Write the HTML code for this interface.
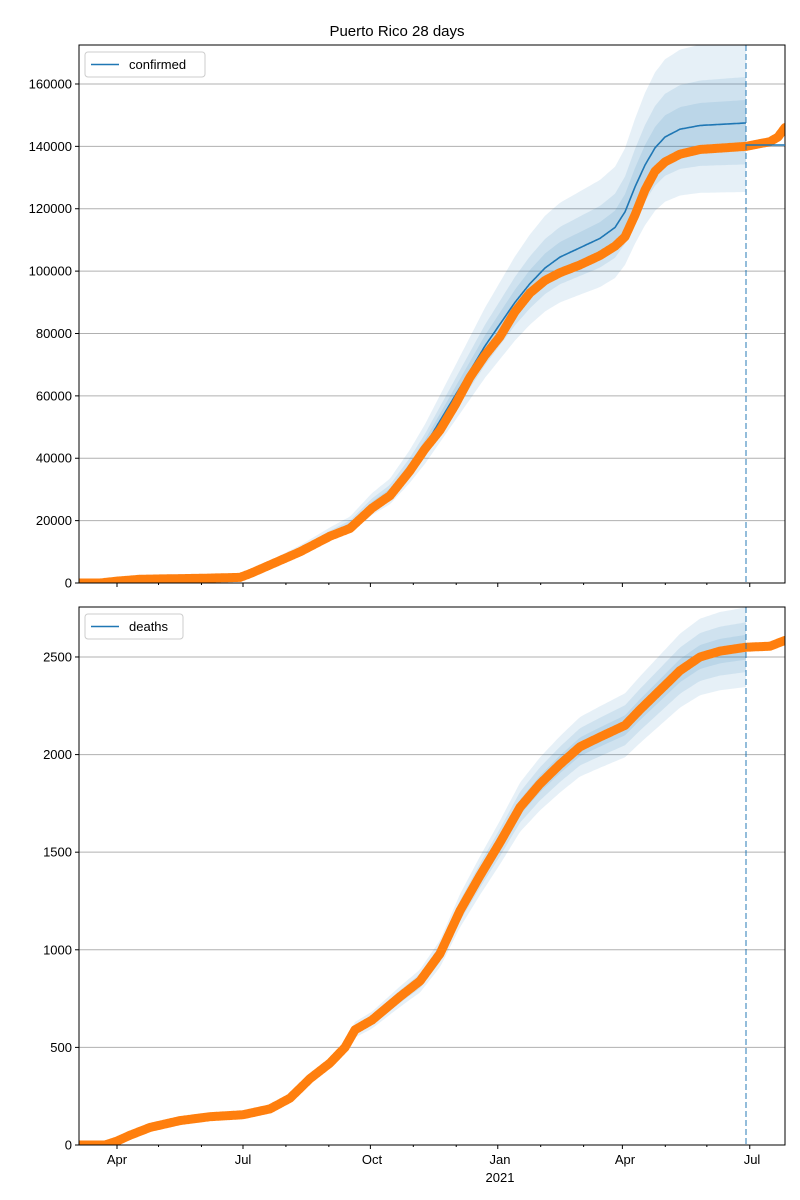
<!DOCTYPE html>
<html><head><meta charset="utf-8"><style>
body{margin:0;background:#fff;}
svg{display:block;font-family:"Liberation Sans","DejaVu Sans",sans-serif;}
</style></head><body>
<svg id="s" width="800" height="1200" xmlns="http://www.w3.org/2000/svg">
<text x="397" y="36" font-size="15" text-anchor="middle">Puerto Rico 28 days</text>
</svg>
<script>
const S=document.getElementById('s');const NS='http://www.w3.org/2000/svg';
function el(t,a,txt){const e=document.createElementNS(NS,t);for(const k in a)e.setAttribute(k,a[k]);if(txt!==undefined)e.textContent=txt;S.appendChild(e);return e;}
function interp(pts,x){if(x<=pts[0][0])return pts[0][1];for(let i=1;i<pts.length;i++){if(x<=pts[i][0]){const[a,b]=pts[i-1],[c,d]=pts[i];return b+(d-b)*(x-a)/(c-a);}}return pts[pts.length-1][1];}
function path(xs,f){return xs.map((x,i)=>(i?'L':'M')+x.toFixed(1)+','+f(x).toFixed(1)).join('');}
const L=79,R=785;
function panel(top,bot,vmax,ticks,orange,blue,bands,sx,clipId,labels){
  const ys=v=>bot-v*(bot-top)/vmax;
  const clip=el('clipPath',{id:clipId});const cp=document.createElementNS(NS,'rect');
  cp.setAttribute('x',L);cp.setAttribute('y',top);cp.setAttribute('width',R-L);cp.setAttribute('height',bot-top);clip.appendChild(cp);
  const g=el('g',{'clip-path':'url(#'+clipId+')'});
  function add(t,a){const e=document.createElementNS(NS,t);for(const k in a)e.setAttribute(k,a[k]);g.appendChild(e);return e;}
  ticks.forEach(v=>{add('line',{x1:L,x2:R,y1:ys(v),y2:ys(v),stroke:'#b0b0b0','stroke-width':1});});
  const xs=[];for(let x=sx;x<=746;x+=2)xs.push(x);xs.push(746);
  function fr(x){return Math.min(1,0.8+0.2*(x-sx)/(746-sx));}
  bands.forEach(([up,lo])=>{
    const d=path(xs,x=>ys(interp(blue,x)*(1+up*fr(x))))+xs.slice().reverse().map(x=>'L'+x.toFixed(1)+','+ys(interp(blue,x)*(1-lo*fr(x))).toFixed(1)).join('')+'Z';
    add('path',{d,fill:'#1f77b4','fill-opacity':0.11});
  });
  const bx=[];for(let x=L;x<=785;x+=1)bx.push(x);
  add('path',{d:path(bx.filter(x=>x<=746),x=>ys(interp(blue,x))),fill:'none',stroke:'#1f77b4','stroke-width':1.6});
  add('path',{d:path(bx,x=>ys(interp(orange,x))),fill:'none',stroke:'#ff7f0e','stroke-width':9,'stroke-linejoin':'round','stroke-linecap':'round'});
  add('line',{x1:746,x2:746,y1:top,y2:bot,stroke:'#1f77b4','stroke-opacity':0.6,'stroke-width':1.6,'stroke-dasharray':'6,3'});
  el('rect',{x:L,y:top,width:R-L,height:bot-top,fill:'none',stroke:'#000','stroke-width':1});
  ticks.forEach(v=>{const y=ys(v);el('line',{x1:L-4,x2:L,y1:y,y2:y,stroke:'#000'});el('text',{x:L-7,y:y+4.5,'font-size':13,'text-anchor':'end'},String(v));});
  const base=117, ppd=1.3846;
  const offs=[-31,0,30,61,91,122,153,183,214,245,275,306,337,365,396,426,457,487,518];
  offs.forEach(d=>{const x=base+d*ppd;if(x<L||x>R)return;const major=[0,91,183,275,365,457].includes(d);el('line',{x1:x,x2:x,y1:bot,y2:bot+(major?4:2),stroke:'#000'});});
  if(labels){[['Apr',117],['Jul',243],['Oct',372],['Jan',500],['Apr',625],['Jul',752]].forEach(([t,x])=>el('text',{x,y:bot+19,'font-size':13,'text-anchor':'middle'},t));el('text',{x:500,y:bot+37,'font-size':13,'text-anchor':'middle'},'2021');}
}
const C=[[79,0],[100,0],[117,600],[140,1200],[200,1500],[240,1800],[250,3000],[275,6500],[300,10000],[330,15000],[350,17500],[372,24000],[390,28000],[410,36000],[425,43000],[440,49000],[455,57000],[470,66000],[485,73000],[500,79000],[515,87000],[530,93000],[545,97000],[560,99500],[580,102000],[600,105000],[615,108000],[625,111000],[635,118000],[645,126000],[655,132000],[665,135000],[680,137500],[700,139000],[746,140000],[770,141500],[778,143000],[785,146000]];
const CB=[[79,0],[100,0],[117,600],[200,1500],[240,1800],[250,3000],[275,7000],[300,10500],[330,15500],[350,18500],[372,25000],[390,29000],[410,37000],[425,44000],[440,52000],[455,60000],[470,68000],[485,76000],[500,83000],[515,90000],[530,96000],[545,101000],[560,104500],[580,107500],[600,110500],[615,114000],[625,119000],[635,127000],[645,134000],[655,139500],[665,143000],[680,145500],[700,146700],[746,147500]];
panel(45,583,172500,[0,20000,40000,60000,80000,100000,120000,140000,160000],C,CB,[[0.18,0.15],[0.1,0.09],[0.05,0.05]],243,'c1',false);
el('line',{x1:746,x2:785,y1:145,y2:145,stroke:'#1f77b4','stroke-width':1.6});
const D=[[79,0],[105,0],[117,20],[130,50],[150,90],[180,125],[210,145],[243,155],[270,185],[290,240],[310,340],[330,420],[345,500],[355,590],[372,640],[400,760],[420,840],[440,980],[460,1200],[480,1380],[500,1550],[520,1730],[540,1850],[560,1950],[580,2040],[600,2090],[625,2150],[640,2230],[660,2330],[680,2430],[700,2500],[720,2530],[746,2550],[770,2555],[785,2585]];
panel(607,1145,2756,[0,500,1000,1500,2000,2500],D,D,[[0.08,0.08],[0.05,0.05],[0.025,0.025]],243,'c2',true);
function legend(x,y,w,t){el('rect',{x,y,width:w,height:25,fill:'#fff','fill-opacity':0.8,stroke:'#ccc',rx:3});el('line',{x1:x+6,x2:x+34,y1:y+12.5,y2:y+12.5,stroke:'#1f77b4','stroke-width':1.6});el('text',{x:x+44,y:y+17,'font-size':13},t);}
legend(85,52,120,'confirmed');legend(85,614,98,'deaths');
</script>
</body></html>
